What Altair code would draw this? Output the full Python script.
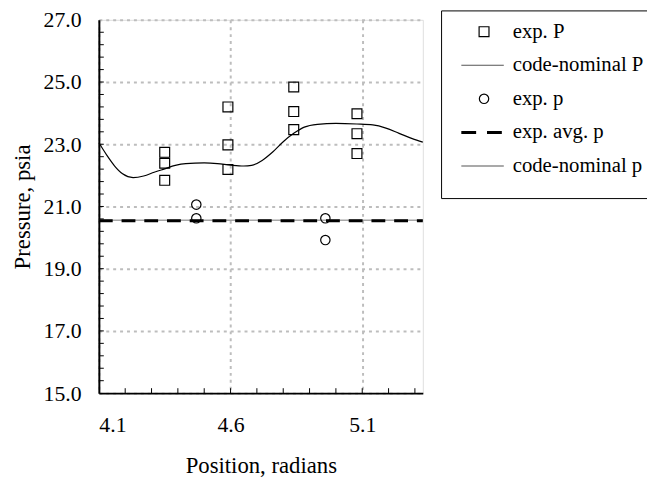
import altair as alt
import pandas as pd

# ---- data ----
expP_x = [4.35, 4.35, 4.35, 4.59, 4.59, 4.59, 4.84, 4.84, 4.84, 5.08, 5.08, 5.08]
expP_y = [22.74, 22.39, 21.84, 24.20, 22.98, 22.19, 24.84, 24.05, 23.47, 23.98, 23.34, 22.70]

expp_x = [4.47, 4.47, 4.96, 4.96]
expp_y = [21.06, 20.62, 20.62, 19.92]

avg_p = 20.54
nominal_p = 20.56

curveP_x = [4.10, 4.13, 4.16, 4.19, 4.23, 4.27, 4.31, 4.35, 4.39, 4.43, 4.50, 4.55,
            4.60, 4.65, 4.68, 4.72, 4.76, 4.80, 4.84, 4.88, 4.93, 5.00, 5.08, 5.14,
            5.19, 5.24, 5.29, 5.33]
curveP_y = [23.05, 22.65, 22.30, 22.05, 21.93, 21.98, 22.10, 22.21, 22.32, 22.38, 22.40, 22.38,
            22.33, 22.30, 22.32, 22.48, 22.75, 23.08, 23.35, 23.55, 23.64, 23.67, 23.65, 23.62,
            23.52, 23.35, 23.18, 23.07]

x_ticks = [4.1, 4.6, 5.1]
y_ticks = [15, 17, 19, 21, 23, 25, 27]
x_minor = [4.2, 4.3, 4.4, 4.5, 4.6, 4.7, 4.8, 4.9, 5.0, 5.1, 5.2, 5.3]
y_minor = [15.4, 15.8, 16.2, 16.6, 17.0, 17.4, 17.8, 18.2, 18.6, 19.0, 19.4, 19.8,
           20.2, 20.6, 21.0, 21.4, 21.8, 22.2, 22.6, 23.0, 23.4, 23.8, 24.2, 24.6,
           25.0, 25.4, 25.8, 26.2, 26.6]
x_domain = [4.1, 5.33]
y_domain = [15, 27]

legend_names = ["exp. P", "code-nominal P", "exp. p", "exp. avg. p", "code-nominal p"]

FONT = "Liberation Serif"
W, H = 328, 378
LX = W + 19  # legend box left edge (pixels from plot left)

# ---- main plot ----
dfP = pd.DataFrame({"x": expP_x, "y": expP_y})
dfp = pd.DataFrame({"x": expp_x, "y": expp_y})
dfC = pd.DataFrame({"x": curveP_x, "y": curveP_y})
dfH = pd.DataFrame({"x": [x_domain[0], x_domain[1]], "avg": [avg_p, avg_p], "nom": [nominal_p, nominal_p]})
dfXm = pd.DataFrame({"x": x_minor})
dfYm = pd.DataFrame({"y": y_minor})

xs = alt.Scale(domain=x_domain, nice=False, zero=False)
ys = alt.Scale(domain=y_domain, nice=False, zero=False)

x_axis = alt.Axis(values=x_ticks, format=".1f", title="Position, radians",
                  grid=True, gridColor="#bdbdbd", gridDash=[3, 4], gridWidth=2,
                  domainColor="black", domainWidth=2, ticks=False,
                  labelFont=FONT, labelFontSize=22, labelColor="black", labelPadding=22,
                  titleFont=FONT, titleFontSize=23, titleFontWeight="normal", titleColor="black",
                  titlePadding=19)
y_axis = alt.Axis(values=y_ticks, format=".1f", title="Pressure, psia",
                  grid=True, gridColor="#bdbdbd", gridDash=[3, 4], gridWidth=2,
                  domainColor="black", domainWidth=2, ticks=False,
                  labelFont=FONT, labelFontSize=22, labelColor="black", labelPadding=18,
                  titleFont=FONT, titleFontSize=23, titleFontWeight="normal", titleColor="black",
                  titlePadding=9)

base_axes = alt.Chart(dfC).mark_line(stroke="black", strokeWidth=1.2, interpolate="monotone").encode(
    x=alt.X("x:Q", scale=xs, axis=x_axis),
    y=alt.Y("y:Q", scale=ys, axis=y_axis),
)

nom_line = alt.Chart(dfH).mark_line(stroke="#777777", strokeWidth=1).encode(
    x=alt.X("x:Q", scale=xs), y=alt.Y("nom:Q", scale=ys))
avg_line = alt.Chart(dfH).mark_line(stroke="black", strokeWidth=3, strokeDash=[14, 9]).encode(
    x=alt.X("x:Q", scale=xs), y=alt.Y("avg:Q", scale=ys))

squares = alt.Chart(dfP).mark_point(shape="square", filled=False, stroke="black",
                                     strokeWidth=1.2, size=100, opacity=1).encode(
    x=alt.X("x:Q", scale=xs), y=alt.Y("y:Q", scale=ys))
circles = alt.Chart(dfp).mark_point(shape="circle", filled=False, stroke="black",
                                     strokeWidth=1.2, size=90, opacity=1).encode(
    x=alt.X("x:Q", scale=xs), y=alt.Y("y:Q", scale=ys))

xm = alt.Chart(dfXm).mark_rule(stroke="black", strokeWidth=1).encode(
    x=alt.X("x:Q", scale=xs), y=alt.value(H), y2=alt.value(H - 5))
ym = alt.Chart(dfYm).mark_rule(stroke="black", strokeWidth=1).encode(
    y=alt.Y("y:Q", scale=ys), x=alt.value(0), x2=alt.value(5))

main = alt.layer(nom_line, avg_line, base_axes, squares, circles, xm, ym)

# ---- legend (drawn to the right of the plot area) ----
dfL = pd.DataFrame({"name": legend_names})
ly = alt.Y("name:N", sort=legend_names,
           scale=alt.Scale(type="point", domain=legend_names, range=[12, 148], padding=0),
           axis=None)
lbase = alt.Chart(dfL)
l_box = alt.Chart(pd.DataFrame({"k": [0]})).mark_rect(
    fill="white", stroke="black", strokeWidth=1).encode(
    x=alt.value(LX), x2=alt.value(LX + 240), y=alt.value(-9), y2=alt.value(181))
l_sq = lbase.transform_filter(alt.datum.name == "exp. P").mark_point(
    shape="square", filled=False, stroke="black", strokeWidth=1.2, size=100, opacity=1).encode(
    x=alt.value(LX + 43), y=ly)
l_ci = lbase.transform_filter(alt.datum.name == "exp. p").mark_point(
    shape="circle", filled=False, stroke="black", strokeWidth=1.2, size=90, opacity=1).encode(
    x=alt.value(LX + 43), y=ly)
l_lines = lbase.transform_filter(
    (alt.datum.name == "code-nominal P") | (alt.datum.name == "code-nominal p")).mark_rule(
    stroke="#555555", strokeWidth=1.2).encode(x=alt.value(LX + 20), x2=alt.value(LX + 63), y=ly)
l_dash = lbase.transform_filter(alt.datum.name == "exp. avg. p").mark_rule(
    stroke="black", strokeWidth=3, strokeDash=[15, 11]).encode(
    x=alt.value(LX + 20), x2=alt.value(LX + 66), y=ly)
l_text = lbase.mark_text(align="left", baseline="middle", font=FONT, fontSize=21,
                         color="black").encode(x=alt.value(LX + 72), y=ly, text="name:N")

legend = alt.layer(l_box, l_sq, l_ci, l_lines, l_dash, l_text)

chart = alt.layer(main, legend).resolve_scale(y="independent").properties(
    width=W, height=H,
    autosize=alt.AutoSizeParams(type="none"),
    padding={"left": 92, "top": 9, "right": 227, "bottom": 85},
).configure_view(stroke="black", strokeWidth=1).configure(background="white")

chart.save("out.html", embed_options={"renderer": "svg", "actions": False})
